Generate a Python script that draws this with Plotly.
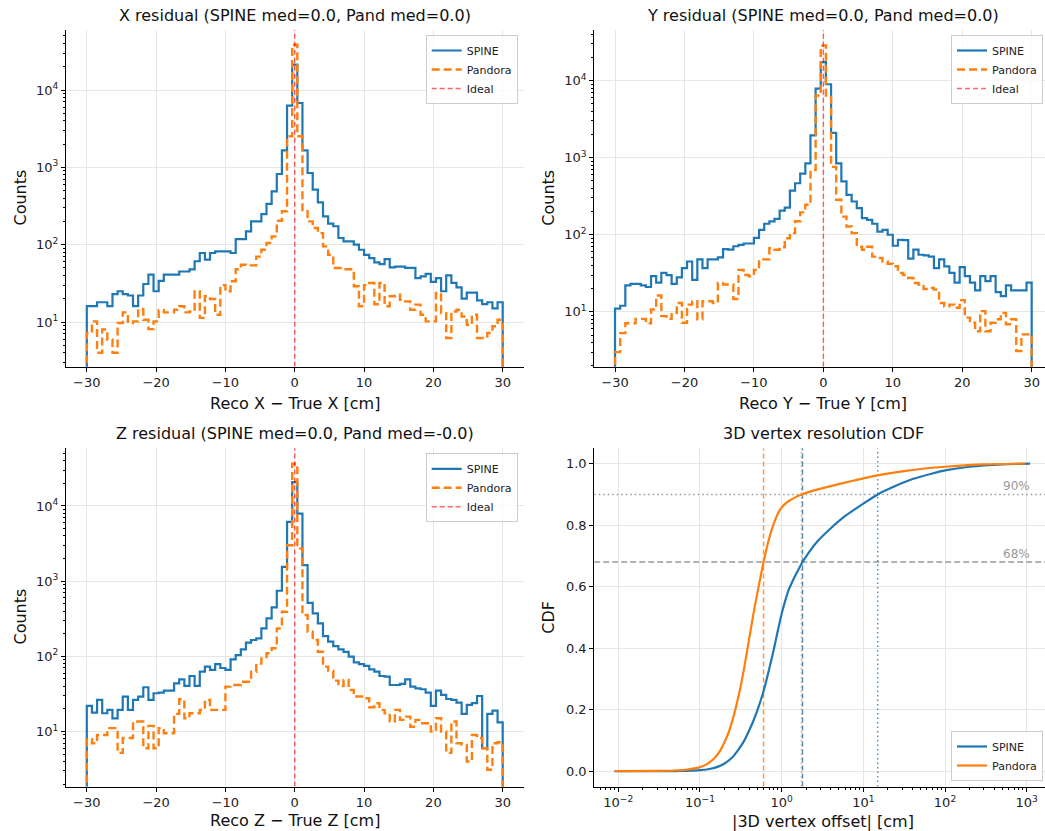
import numpy as np
import plotly.graph_objects as go

# ---------------- data ----------------
N_BINS = 81
RANGE_MIN, RANGE_MAX = -30, 30

SPINE_X = [16, 16, 18, 18, 16, 23, 25, 23, 22, 16,
           22, 31, 41, 25, 34, 41, 41, 41, 45, 45,
           48, 61, 78, 64, 78, 82, 82, 82, 78, 118,
           118, 149, 200, 200, 249, 336, 490, 820, 1660, 6270,
           21300,
           6790, 1660, 845, 514, 353, 232, 187, 173, 122,
           110, 110, 100, 86, 74, 67, 59, 56, 65, 51,
           52, 52, 50, 50, 37, 39, 42, 33, 37, 25,
           40, 32, 28, 20, 24, 24, 19, 17, 18, 15,
           18]
PAND_X = [7.2, 10.2, 4, 8, 5.9, 4, 9.7, 13.3, 9.7, 10.2,
          14.7, 10.7, 8.1, 10.2, 14.2, 13.3, 13.3, 14.4, 16, 13.3,
          13.7, 25, 11.3, 21.5, 19.8, 12.4, 30, 25, 33.6, 48,
          55, 54, 54, 70, 86, 105, 128, 204, 270, 2520,
          38500,
          2520, 270, 200, 164, 141, 95, 74, 50, 50, 48,
          48, 29, 16, 30, 32, 17, 32, 16, 21.5, 22.6,
          19.4, 18.5, 14.4, 16.8, 12.4, 10.2, 10.2, 23.7, 13, 6.2,
          13.7, 14.4, 11.8, 9.2, 12.4, 6.2, 6.2, 7.2, 8.8, 10.7]

SPINE_Y = [11, 12, 22, 23, 23, 22, 21, 29, 24, 32,
           30, 23, 28, 37, 45, 26, 48, 37, 48, 48,
           51, 65, 64, 71, 74, 77, 77, 91, 116, 139,
           149, 161, 206, 225, 374, 466, 620, 845, 1945, 7880,
           17400,
           8970, 2100, 845, 494, 329, 270, 221, 164, 156, 139,
           110, 116, 100, 72, 86, 85, 49, 64, 55, 54,
           52, 37, 48, 39, 32, 24, 38, 29, 24, 19,
           29, 25, 29, 18, 16, 22, 19, 19, 19, 24]
PAND_Y = [3, 5.3, 7.1, 7.1, 8.1, 8.1, 7.1, 10.7, 16.3, 8.8,
          8.1, 9.7, 13, 7.2, 12.4, 13.7, 8, 13.7, 13.7, 13,
          23.7, 22.6, 22.6, 14.7, 35, 30, 29, 35, 48, 48,
          67, 64, 69, 90, 105, 150, 195, 245, 690, 6400,
          28600,
          6400, 760, 285, 172, 128, 105, 70, 64, 70, 52,
          50, 45, 42, 39, 32, 30, 27.5, 23.7, 22.6, 19.8,
          20.4, 19.4, 13, 11.8, 12.4, 11.3, 14.2, 8.4, 7.2, 5.6,
          10.2, 5.6, 7.2, 8, 9.7, 6.9, 8, 3.1, 5.1, 5.1]

SPINE_Z = [21.9, 17.9, 26.3, 17.5, 19.4, 15, 19.4, 29.2, 19.4, 26.3,
           29.2, 38.8, 26.3, 32.3, 33, 35, 35, 43.8, 49.5, 40.4,
           54.8, 40.4, 62.5, 73, 66, 79, 70, 66, 91, 104,
           124, 152, 165, 173, 235, 319, 447, 745, 1550, 6140,
           20800,
           7910, 1630, 515, 372, 274, 186, 157, 137, 124, 115,
           99, 83, 79, 74.5, 67, 62.5, 54.8, 53.7, 41.6, 41.6,
           43, 49.5, 39.6, 37.6, 36.5, 33, 21.9, 35, 30.7, 27.1,
           26.3, 24.3, 17.2, 22.6, 23.8, 29.7, 6, 17.2, 19, 13.2]
PAND_Z = [7.9, 7, 9, 9, 11.1, 11.1, 5.2, 8.2, 8.2, 13.6,
          13.6, 6, 11.9, 6, 11.1, 9.5, 9.5, 17.2, 26.9, 15,
          17.5, 17.5, 19.4, 26.3, 19.4, 19.4, 19.4, 39.6, 41.6, 41.6,
          46, 46, 62.5, 80, 94, 110, 128, 235, 392, 3000,
          36500,
          2720, 354, 212, 165, 115, 73, 64.5, 47.5, 40.4, 48.5,
          35.7, 29.2, 29.2, 27.7, 21, 23.8, 19.4, 17.5, 13.6, 19.4,
          14.3, 15.8, 11.6, 14.3, 12.9, 12.9, 10, 15, 10, 5.2,
          13.6, 7, 6.65, 4, 9, 8.2, 6, 3.1, 7, 7.2]

SPINE_CDF_X = [0.009, 0.03, 0.05, 0.07, 0.1, 0.13, 0.16, 0.2, 0.25, 0.3, 0.35, 0.4,
               0.45, 0.5, 0.6, 0.7, 0.8, 0.9, 1.0, 1.1, 1.2, 1.4, 1.6, 1.8, 2.2, 2.8,
               4, 6, 10, 15, 25, 40, 70, 100, 200, 500, 1100]
SPINE_CDF_Y = [0, 0, 0.0003, 0.001, 0.003, 0.007, 0.013, 0.025, 0.045, 0.072, 0.1, 0.132,
               0.163, 0.195, 0.26, 0.33, 0.395, 0.458, 0.512, 0.552, 0.585, 0.625, 0.655,
               0.68, 0.715, 0.75, 0.79, 0.83, 0.87, 0.90, 0.928, 0.95, 0.968, 0.978,
               0.99, 0.998, 1.0]
PAND_CDF_X = [0.009, 0.03, 0.05, 0.07, 0.1, 0.12, 0.15, 0.18, 0.2, 0.22, 0.25, 0.3,
              0.35, 0.4, 0.45, 0.5, 0.55, 0.6, 0.7, 0.8, 0.9, 1.0, 1.2, 1.5, 1.75,
              2.5, 4, 7, 10, 15, 30, 60, 100, 300, 950]
PAND_CDF_Y = [0, 0.0005, 0.002, 0.005, 0.013, 0.022, 0.042, 0.07, 0.095, 0.12, 0.165,
              0.25, 0.34, 0.43, 0.51, 0.575, 0.63, 0.68, 0.755, 0.805, 0.838, 0.858,
              0.877, 0.892, 0.90, 0.913, 0.927, 0.943, 0.952, 0.962, 0.975, 0.985,
              0.99, 0.998, 1.0]

PCT_LEVELS = [0.68, 0.90]
PCT_LABELS = ["68%", "90%"]
SPINE_PCT = [1.8, 15.0]
PAND_PCT = [0.6, 1.75]

TITLES = ["X residual (SPINE med=0.0, Pand med=0.0)",
          "Y residual (SPINE med=0.0, Pand med=0.0)",
          "Z residual (SPINE med=0.0, Pand med=-0.0)",
          "3D vertex resolution CDF"]
XLABELS = ["Reco X \u2212 True X [cm]", "Reco Y \u2212 True Y [cm]",
           "Reco Z \u2212 True Z [cm]", "|3D vertex offset| [cm]"]
YLABELS = ["Counts", "Counts", "Counts", "CDF"]
HIST_TICKS = [-30, -20, -10, 0, 10, 20, 30]

# ---------------- styling / layout ----------------
W, H = 1045, 831
FONT = "DejaVu Sans"
BLUE = "#1f77b4"
ORANGE = "#ff7f0e"
RED = "rgba(255,0,0,0.6)"
GRID = "#e6e6e6"

LEFT = [66 / W, 523.5 / W]
RIGHT = [594.2 / W, 1.0]
TOP = [1 - 366.7 / H, 1 - 30 / H]
BOT = [1 - 786.5 / H, 1 - 448.3 / H]

hist_panels = [
    dict(ax="1", counts=(SPINE_X, PAND_X), xd=LEFT, yd=TOP, xr=[-33, 33], yr=[0.422, 4.776], leg="legend"),
    dict(ax="2", counts=(SPINE_Y, PAND_Y), xd=RIGHT, yd=TOP, xr=[-33, 31.92], yr=[0.288, 4.657], leg="legend2"),
    dict(ax="3", counts=(SPINE_Z, PAND_Z), xd=LEFT, yd=BOT, xr=[-33, 33], yr=[0.269, 4.767], leg="legend3"),
]

edges = np.linspace(RANGE_MIN, RANGE_MAX, N_BINS + 1)
BASE = 1.0  # below the visible range: the outline drops to the axis


def step_xy(counts):
    xs = [edges[0]] + list(edges[:-1]) + [edges[-1]]
    ys = [BASE] + list(counts) + [BASE]
    return xs, ys


fig = go.Figure()

for p in hist_panels:
    xa = "x" if p["ax"] == "1" else "x" + p["ax"]
    ya = "y" if p["ax"] == "1" else "y" + p["ax"]
    sx, sy = step_xy(p["counts"][0])
    px_, py_ = step_xy(p["counts"][1])
    fig.add_trace(go.Scatter(x=sx, y=sy, mode="lines", line_shape="hv", name="SPINE",
                             line=dict(color=BLUE, width=2.2), xaxis=xa, yaxis=ya,
                             legend=p["leg"]))
    fig.add_trace(go.Scatter(x=px_, y=py_, mode="lines", line_shape="hv", name="Pandora",
                             line=dict(color=ORANGE, width=2.4, dash="8px,4px"),
                             xaxis=xa, yaxis=ya, legend=p["leg"]))
    fig.add_trace(go.Scatter(x=[0, 0], y=[10 ** p["yr"][0], 10 ** p["yr"][1]], mode="lines",
                             name="Ideal", line=dict(color=RED, width=1.5, dash="5px,3px"),
                             xaxis=xa, yaxis=ya, legend=p["leg"]))

# CDF panel
CDF_XR = [-2.295, 3.224]
CDF_YR = [-0.05, 1.05]
for lv, dsh in zip(PCT_LEVELS, ["6px,3px", "1.5px,3px"]):
    fig.add_trace(go.Scatter(x=[10 ** CDF_XR[0], 10 ** CDF_XR[1]], y=[lv, lv], mode="lines",
                             line=dict(color="rgba(128,128,128,0.8)", width=1.5, dash=dsh),
                             showlegend=False, xaxis="x4", yaxis="y4", hoverinfo="skip"))
for vals, col in [(SPINE_PCT, "rgba(31,119,180,0.8)"), (PAND_PCT, "rgba(255,127,14,0.8)")]:
    for v, dsh in zip(vals, ["5px,3px", "1.5px,3px"]):
        fig.add_trace(go.Scatter(x=[v, v], y=CDF_YR, mode="lines",
                                 line=dict(color=col, width=1.5, dash=dsh),
                                 showlegend=False, xaxis="x4", yaxis="y4", hoverinfo="skip"))
fig.add_trace(go.Scatter(x=SPINE_CDF_X, y=SPINE_CDF_Y, mode="lines", name="SPINE",
                         line=dict(color=BLUE, width=2.2, shape="spline", smoothing=0.5),
                         xaxis="x4", yaxis="y4", legend="legend4"))
fig.add_trace(go.Scatter(x=PAND_CDF_X, y=PAND_CDF_Y, mode="lines", name="Pandora",
                         line=dict(color=ORANGE, width=2.2, shape="spline", smoothing=0.5),
                         xaxis="x4", yaxis="y4", legend="legend4"))

axis_common = dict(showline=True, linecolor="black", linewidth=1, ticks="outside",
                   ticklen=4, tickwidth=1, tickcolor="black", showgrid=True,
                   gridcolor=GRID, gridwidth=1, zeroline=False, automargin=False,
                   tickfont=dict(family=FONT, size=13, color="#222"))
minor_log = dict(ticks="outside", ticklen=2, tickwidth=0.8, tickcolor="black",
                 dtick="D1", showgrid=False)

layout = dict(width=W, height=H, margin=dict(l=0, r=0, t=0, b=0), autosize=False,
              paper_bgcolor="white", plot_bgcolor="white",
              font=dict(family=FONT, color="#222"))

dec_ticks = [10, 100, 1000, 10000]
dec_text = ["10<sup>%d</sup>" % k for k in range(1, 5)]
for p in hist_panels:
    xk = "xaxis" if p["ax"] == "1" else "xaxis" + p["ax"]
    yk = "yaxis" if p["ax"] == "1" else "yaxis" + p["ax"]
    xa = "x" if p["ax"] == "1" else "x" + p["ax"]
    ya = "y" if p["ax"] == "1" else "y" + p["ax"]
    layout[xk] = dict(axis_common, domain=p["xd"], range=p["xr"], anchor=ya,
                      tickmode="array", tickvals=HIST_TICKS)
    layout[yk] = dict(axis_common, domain=p["yd"], range=p["yr"], anchor=xa, type="log",
                      tickmode="array", tickvals=dec_ticks, ticktext=dec_text, minor=minor_log)

cdf_tickvals = [0.01, 0.1, 1, 10, 100, 1000]
cdf_ticktext = ["10<sup>\u22122</sup>", "10<sup>\u22121</sup>", "10<sup>0</sup>",
                "10<sup>1</sup>", "10<sup>2</sup>", "10<sup>3</sup>"]
layout["xaxis4"] = dict(axis_common, domain=RIGHT, range=CDF_XR, anchor="y4", type="log",
                        tickmode="array", tickvals=cdf_tickvals, ticktext=cdf_ticktext,
                        minor=minor_log)
layout["yaxis4"] = dict(axis_common, domain=BOT, range=CDF_YR, anchor="x4",
                        tickmode="linear", tick0=0, dtick=0.2, tickformat=".1f")

leg_common = dict(bgcolor="rgba(255,255,255,0.8)", bordercolor="#cccccc", borderwidth=1,
                  font=dict(family=FONT, size=11, color="#222"), xanchor="right",
                  itemwidth=30, tracegroupgap=0)
layout["legend"] = dict(leg_common, x=517.7 / W, y=1 - 35 / H, yanchor="top")
layout["legend2"] = dict(leg_common, x=1043 / W, y=1 - 35 / H, yanchor="top")
layout["legend3"] = dict(leg_common, x=517.7 / W, y=1 - 453.3 / H, yanchor="top")
layout["legend4"] = dict(leg_common, x=1043 / W, y=1 - 781 / H, yanchor="bottom")

fig.update_layout(**layout)

# titles & axis labels as annotations (positions from the reference layout)
title_pos = [(294.7, 30), (823, 30), (294.7, 448.3), (823, 448.3)]
xlabel_pos = [(294.7, 404), (823, 404), (294.7, 820), (823, 821)]
ylabel_pos = [(19.5, 198), (547.7, 198), (19.5, 617), (547.7, 617)]
for (tx, ty), t in zip(title_pos, TITLES):
    fig.add_annotation(text=t, xref="paper", yref="paper", x=tx / W, y=1 - ty / H,
                       xanchor="center", yanchor="bottom", yshift=3, showarrow=False,
                       font=dict(family=FONT, size=16, color="#111"))
for (tx, ty), t in zip(xlabel_pos, XLABELS):
    fig.add_annotation(text=t, xref="paper", yref="paper", x=tx / W, y=1 - ty / H,
                       xanchor="center", yanchor="middle", showarrow=False,
                       font=dict(family=FONT, size=16, color="#111"))
for (tx, ty), t in zip(ylabel_pos, YLABELS):
    fig.add_annotation(text=t, xref="paper", yref="paper", x=tx / W, y=1 - ty / H,
                       xanchor="center", yanchor="middle", showarrow=False, textangle=-90,
                       font=dict(family=FONT, size=16, color="#111"))
for lv, lab in zip(PCT_LEVELS, PCT_LABELS):
    fig.add_annotation(text=lab, xref="x4", yref="y4", x=np.log10(1150), y=lv,
                       xanchor="right", yanchor="bottom", yshift=-1, showarrow=False,
                       font=dict(family=FONT, size=12, color="#999"))

fig.write_html("out.html")
